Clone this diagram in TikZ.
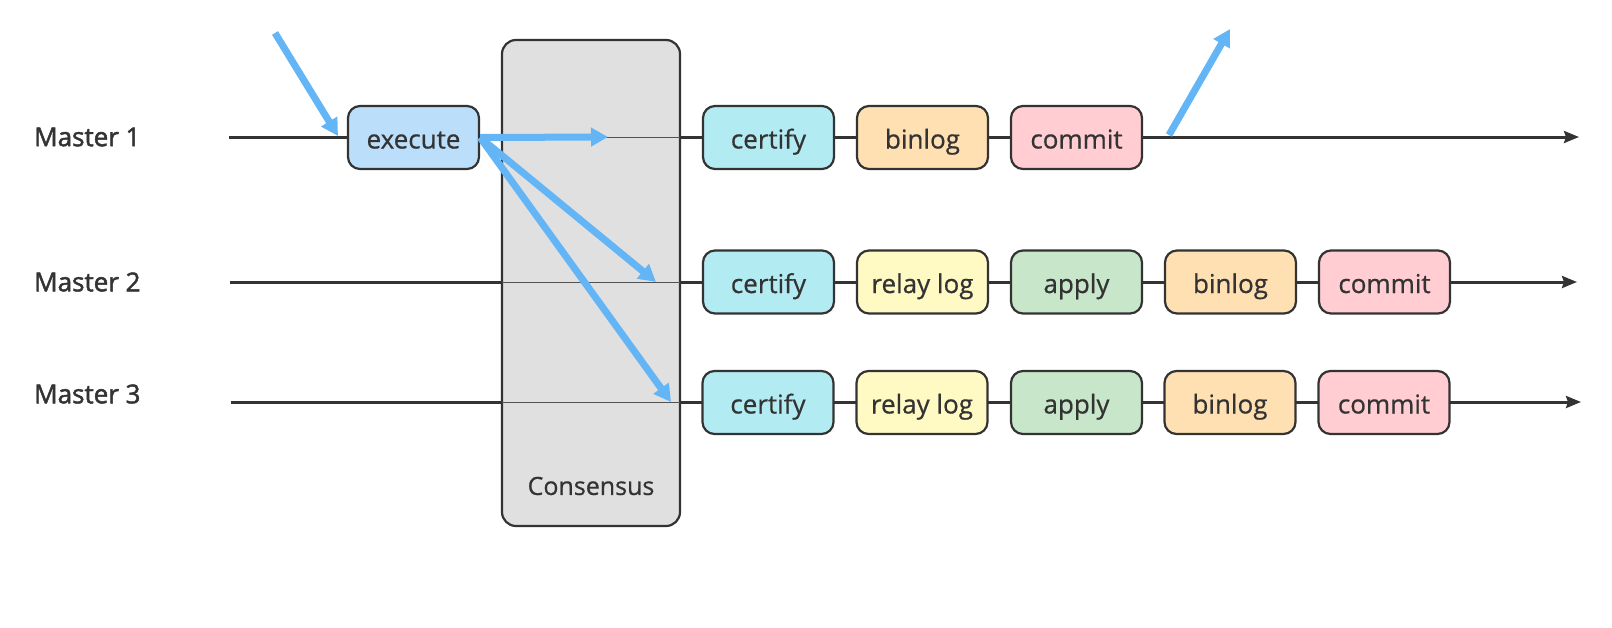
\documentclass[tikz,border=0pt]{standalone}
\usepackage{fontspec}
\setmainfont{Open Sans}
\newfontfamily\mfont{Open Sans}[FakeBold=1.8]
\newfontfamily\bfont{Open Sans}[FakeBold=0.6]
\usetikzlibrary{arrows.meta}
\definecolor{ink}{HTML}{333333}
\definecolor{flow}{HTML}{64B5F6}
\definecolor{cexec}{HTML}{BBDEFB}
\definecolor{ccert}{HTML}{B2EBF2}
\definecolor{cbin}{HTML}{FFE0B2}
\definecolor{ccom}{HTML}{FFCDD2}
\definecolor{crelay}{HTML}{FFF9C4}
\definecolor{capply}{HTML}{C8E6C9}
\definecolor{ccons}{HTML}{E0E0E0}
\pgfdeclarelayer{lines}
\pgfdeclarelayer{cons}
\pgfdeclarelayer{thin}
\pgfsetlayers{lines,cons,thin,main}
\tikzset{
  stagebox/.style={draw=ink, line width=2.2pt, rounded corners=12pt, minimum width=131pt, minimum height=63pt, inner sep=0pt, text=ink, text height=24pt, text depth=2pt, font=\bfont\fontsize{26}{30}\selectfont},
  timeline/.style={draw=ink, line width=3pt, -{Stealth[length=15pt,width=12pt,inset=2pt]}},
  innerline/.style={draw=ink!85, line width=1pt},
  flowarrow/.style={draw=flow, line width=7pt, -{Triangle[length=17pt,width=18pt]}},
  master/.style={anchor=west, text=ink, font=\mfont\fontsize{26}{30}\selectfont, inner sep=0pt},
}
\begin{document}
\begin{tikzpicture}[x=1pt,y=-1pt]
\useasboundingbox (0,0) rectangle (1612,627);
% labels
\node[master] (l1) at (34,137) {Master 1};
\node[master] (l2) at (34,282) {Master 2};
\node[master] (l3) at (34,394) {Master 3};
% consensus
\begin{pgfonlayer}{cons}
\node[draw=ink, line width=2.2pt, fill=ccons, rounded corners=14pt, minimum width=178pt, minimum height=486pt, inner sep=0pt] (cons) at (591,283) {};
\end{pgfonlayer}
\node[text=ink, font=\bfont\fontsize{25}{28}\selectfont, inner sep=0pt] (consl) at (591,486) {Consensus};
% row 1
\node[stagebox, fill=cexec] (exec) at (413.5,137.5) {execute};
\node[stagebox, fill=ccert] (c1) at (768.5,137.5) {certify};
\node[stagebox, fill=cbin] (b1) at (922.5,137.5) {binlog};
\node[stagebox, fill=ccom] (k1) at (1076.5,137.5) {commit};
% row 2
\node[stagebox, fill=ccert] (c2) at (768.5,282) {certify};
\node[stagebox, fill=crelay] (r2) at (922.5,282) {relay log};
\node[stagebox, fill=capply] (a2) at (1076.5,282) {apply};
\node[stagebox, fill=cbin] (b2) at (1230.5,282) {binlog};
\node[stagebox, fill=ccom] (k2) at (1384.5,282) {commit};
% row 3
\node[stagebox, fill=ccert] (c3) at (768,402.5) {certify};
\node[stagebox, fill=crelay] (r3) at (922,402.5) {relay log};
\node[stagebox, fill=capply] (a3) at (1076.5,402.5) {apply};
\node[stagebox, fill=cbin] (b3) at (1230,402.5) {binlog};
\node[stagebox, fill=ccom] (k3) at (1384,402.5) {commit};
% coordinates
\coordinate (s1) at (229,137);
\coordinate (e1) at (1579,137);
\coordinate (s2) at (230,282);
\coordinate (e2) at (1577,282);
\coordinate (s3) at (231,402);
\coordinate (e3) at (1581,402);
\coordinate (ci1) at (502,137);
\coordinate (co1) at (680,137);
\coordinate (ci2) at (502,282);
\coordinate (co2) at (680,282);
\coordinate (ci3) at (502,402);
\coordinate (co3) at (680,402);
\coordinate (inS) at (275,33);
\coordinate (inE) at (338,136);
\coordinate (outS) at (1169,135);
\coordinate (outE) at (1230,29);
\coordinate (f1) at (608,137);
\coordinate (f2) at (656,282);
\coordinate (f3) at (671,402);
\begin{pgfonlayer}{lines}
\draw[timeline] (s1) -- (e1);
\draw[timeline] (s2) -- (e2);
\draw[timeline] (s3) -- (e3);
\end{pgfonlayer}
\begin{pgfonlayer}{thin}
\draw[innerline] (ci1) -- (co1);
\draw[innerline] (ci2) -- (co2);
\draw[innerline] (ci3) -- (co3);
\end{pgfonlayer}
% flow arrows
\draw[flowarrow] (inS) -- (inE);
\draw[flowarrow] (exec.east) -- (f1);
\draw[flowarrow] (exec.east) -- (f2);
\draw[flowarrow] (exec.east) -- (f3);
\draw[flowarrow] (outS) -- (outE);
\end{tikzpicture}
\end{document}
